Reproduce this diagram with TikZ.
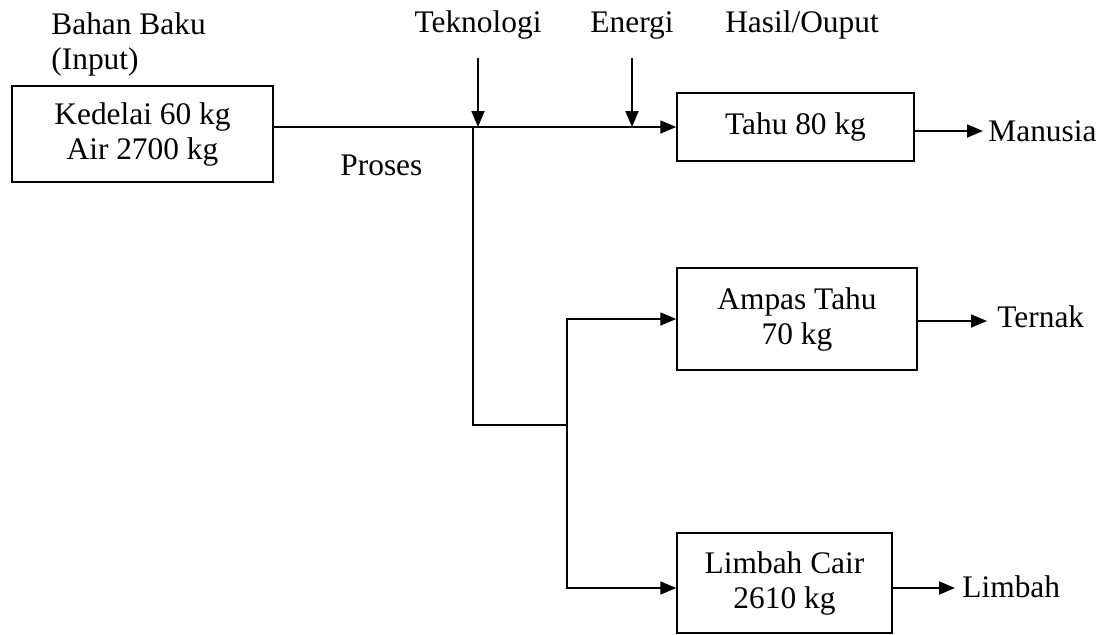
\documentclass[tikz,border=0pt]{standalone}
\usepackage{fontspec}
\setmainfont{Liberation Serif}
\usetikzlibrary{arrows.meta}
\begin{document}
\begin{tikzpicture}[x=0.5pt, y=-0.5pt]

        \tikzset{
          txt/.style={inner sep=0pt, font=\fontsize{15.7pt}{17.5pt}\selectfont},
          box/.style={txt, draw, line width=0.75pt, align=center},
          ln/.style={line width=0.9pt},
          arr/.style={ln, -{Triangle[length=8pt, width=6.5pt]}}
        }
        \useasboundingbox (0,0) rectangle (1104,634);

        % Boxes
        \node[box, minimum width=130.5pt, minimum height=48pt] (input) at (142.5,134) {Kedelai 60 kg\\Air 2700 kg};
        \node[box, minimum width=118.5pt, minimum height=34pt] (tahu) at (795.5,127) {Tahu 80 kg};
        \node[box, minimum width=120pt, minimum height=51pt] (ampas) at (797,319) {Ampas Tahu\\70 kg};
        \node[box, minimum width=107.5pt, minimum height=50pt] (cair) at (784.5,583) {Limbah Cair\\2610 kg};

        % Labels
        \node[txt, anchor=north west, align=left] (bahan) at (51,12) {Bahan Baku\\(Input)};
        \node[txt, anchor=base] (teknologi) at (478,32) {Teknologi};
        \node[txt, anchor=base] (energi) at (632,32) {Energi};
        \node[txt, anchor=base] (hasil) at (802,32) {Hasil/Ouput};
        \node[txt, anchor=base west] (proses) at (340,175) {Proses};
        \node[txt, anchor=base west, inner xsep=2.5pt] (manusia) at (983,141) {Manusia};
        \node[txt, anchor=base west, inner xsep=5pt] (ternak) at (987,327) {Ternak};
        \node[txt, anchor=base west, inner xsep=3.5pt] (limbah) at (955,597) {Limbah};

        % Main line
        \draw[arr] (input.east |- tahu.west) -- (tahu.west);
        \foreach \n in {teknologi, energi}
          \draw[arr, shorten <=9.5pt] (\n.south) -- (\n.south |- tahu.west);

        % Branches
        \coordinate (split) at (473,127);
        \coordinate (fork) at (567,425);
        \draw[ln] (split) |- (fork);
        \draw[arr] (fork) |- (ampas.west);
        \draw[arr] (fork) |- ([yshift=-2.5pt]cair.west);

        % Outputs
        \draw[arr] ([yshift=-2pt]tahu.east) -- ([yshift=-2pt]tahu.east -| manusia.west);
        \draw[arr] ([yshift=-1pt]ampas.east) -- ([yshift=-1pt]ampas.east -| ternak.west);
        \draw[arr] ([yshift=-2.5pt]cair.east) -- ([yshift=-2.5pt]cair.east -| limbah.west);

\end{tikzpicture}
\end{document}
